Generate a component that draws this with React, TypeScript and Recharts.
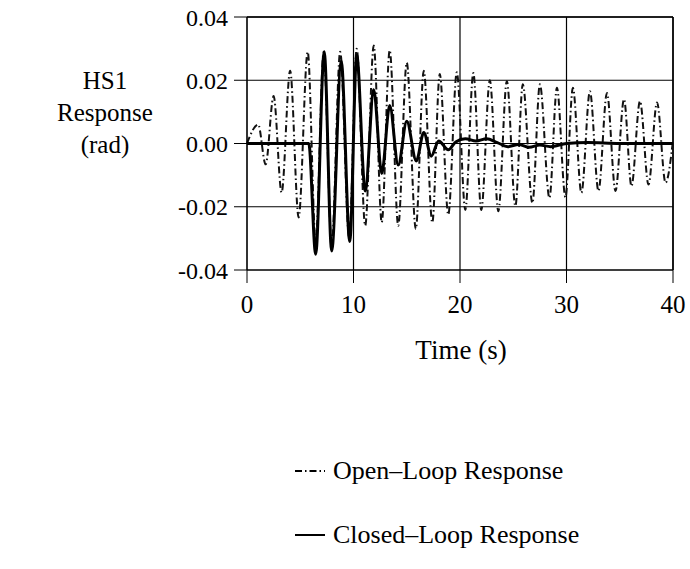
import { LineChart, Line, XAxis, YAxis, CartesianGrid, ReferenceLine } from 'recharts';

// time (s) / response (rad), one entry per peak or trough
const openLoopTime = [
    0, 1.05, 1.75, 2.5, 3.25, 4.05, 4.85, 5.7, 6.45, 7.2, 7.95, 8.75, 9.6, 10.3, 11.1, 11.9, 12.65,
    13.4, 14.2, 15.0, 15.85, 16.6, 17.4, 18.1, 18.9, 19.7, 20.5, 21.25, 22.0, 22.8, 23.6, 24.4,
    25.2, 25.9, 26.8, 27.5, 28.4, 29.1, 29.9, 30.6, 31.4, 32.2, 33.0, 33.8, 34.6, 35.4, 36.1,
    36.9, 37.7, 38.5, 39.3, 40
];
const openLoopResponse = [
    0, 0.006, -0.0066, 0.015, -0.0155, 0.023, -0.0234, 0.029, -0.031, 0.029, -0.032, 0.029, -0.03,
    0.03, -0.026, 0.031, -0.025, 0.0295, -0.026, 0.0256, -0.027, 0.023, -0.025, 0.022, -0.0225,
    0.0225, -0.021, 0.0223, -0.021, 0.02, -0.0214, 0.0197, -0.0198, 0.0187, -0.0188, 0.0187,
    -0.0172, 0.0176, -0.017, 0.0176, -0.0156, 0.0165, -0.015, 0.016, -0.015, 0.014, -0.0135,
    0.0134, -0.013, 0.013, -0.0124, 0.001
];

const closedLoopTime = [
    0, 5.8, 6.45, 7.25, 7.95, 8.85, 9.65, 10.3, 11.1, 11.9, 12.65, 13.4, 14.2, 15.0, 15.9, 16.6,
    17.3, 18.0, 18.9, 19.6, 20.5, 21.5, 22.5, 23.5, 24.5, 25.5, 26.5, 27.5, 28.5, 30, 32, 35, 40
];
const closedLoopResponse = [
    0, 0, -0.035, 0.029, -0.034, 0.026, -0.031, 0.028, -0.015, 0.017, -0.0095, 0.012, -0.0068,
    0.007, -0.0055, 0.0035, -0.004, 0.0008, -0.002, 0.0005, 0.0015, 0.0008, 0.0015, 0.0003,
    -0.001, -0.0003, -0.0012, -0.0005, -0.001, 0, 0.0003, 0, 0
];

const timeTicks = [0, 10, 20, 30, 40];
const responseTicks = [-0.04, -0.02, 0, 0.02, 0.04];

const openLoopData = openLoopTime.map((t, i) => ({ t, v: openLoopResponse[i] }));
const closedLoopData = closedLoopTime.map((t, i) => ({ t, v: closedLoopResponse[i] }));

const FONT = '"Liberation Serif", "Times New Roman", serif';
const OPEN_DASH = '7 3 1.5 3';

function YTitle() {
    return (
        <text x={105} y={80} textAnchor="middle" fontFamily={FONT} fontSize={25} fill="#000">
            <tspan x={105} dy="0.35em">HS1</tspan>
            <tspan x={105} dy={32}>Response</tspan>
            <tspan x={105} dy={32}>(rad)</tspan>
        </text>
    );
}

function XTitle() {
    return (
        <text x={461} y={350} textAnchor="middle" dy="0.35em" fontFamily={FONT} fontSize={27} fill="#000">
            Time (s)
        </text>
    );
}

function LegendRow({ label, dash, width }: { label: string; dash?: string; width: number }) {
    return (
        <div style={{ display: 'flex', alignItems: 'center', height: 30 }}>
            <svg width={30} height={10} style={{ marginRight: 8 }}>
                <line x1={0} y1={5} x2={30} y2={5} stroke="#000" strokeWidth={width} strokeDasharray={dash} />
            </svg>
            <span>{label}</span>
        </div>
    );
}

export default function App() {
    return (
        <div style={{ position: 'absolute', left: 0, top: 0, width: 690, height: 569, background: '#fff' }}>
            <LineChart
                width={690}
                height={569}
                margin={{ top: 17, right: 17, left: 0, bottom: 199 }}
            >
                <CartesianGrid stroke="#000" strokeWidth={1.2} />
                <XAxis
                    dataKey="t"
                    type="number"
                    domain={[0, 40]}
                    ticks={timeTicks}
                    allowDuplicatedCategory={false}
                    height={100}
                    tickSize={13}
                    tickMargin={12}
                    stroke="#000"
                    tick={{ fontFamily: FONT, fontSize: 25, fill: '#000' }}
                    label={<XTitle />}
                />
                <YAxis
                    type="number"
                    domain={[-0.04, 0.04]}
                    ticks={responseTicks}
                    width={247}
                    tickSize={13}
                    tickMargin={6}
                    stroke="#000"
                    tickFormatter={(v: number) => v.toFixed(2)}
                    tick={{ fontFamily: FONT, fontSize: 24, fill: '#000' }}
                    label={<YTitle />}
                />
                <ReferenceLine y={0.04} stroke="#000" strokeWidth={1.5} />
                <ReferenceLine x={40} stroke="#000" strokeWidth={1.5} />
                <Line
                    data={openLoopData}
                    dataKey="v"
                    type="monotone"
                    stroke="#111"
                    strokeWidth={2}
                    strokeDasharray={OPEN_DASH}
                    dot={false}
                    isAnimationActive={false}
                />
                <Line
                    data={closedLoopData}
                    dataKey="v"
                    type="monotone"
                    stroke="#000"
                    strokeWidth={3}
                    dot={false}
                    isAnimationActive={false}
                />
            </LineChart>
            <div
                style={{
                    position: 'absolute',
                    left: 295,
                    top: 456,
                    fontFamily: FONT,
                    fontSize: 26,
                    color: '#000',
                    lineHeight: '30px'
                }}
            >
                <LegendRow label="Open–Loop Response" dash={OPEN_DASH} width={2} />
                <div style={{ height: 34 }} />
                <LegendRow label="Closed–Loop Response" width={2} />
            </div>
        </div>
    );
}
